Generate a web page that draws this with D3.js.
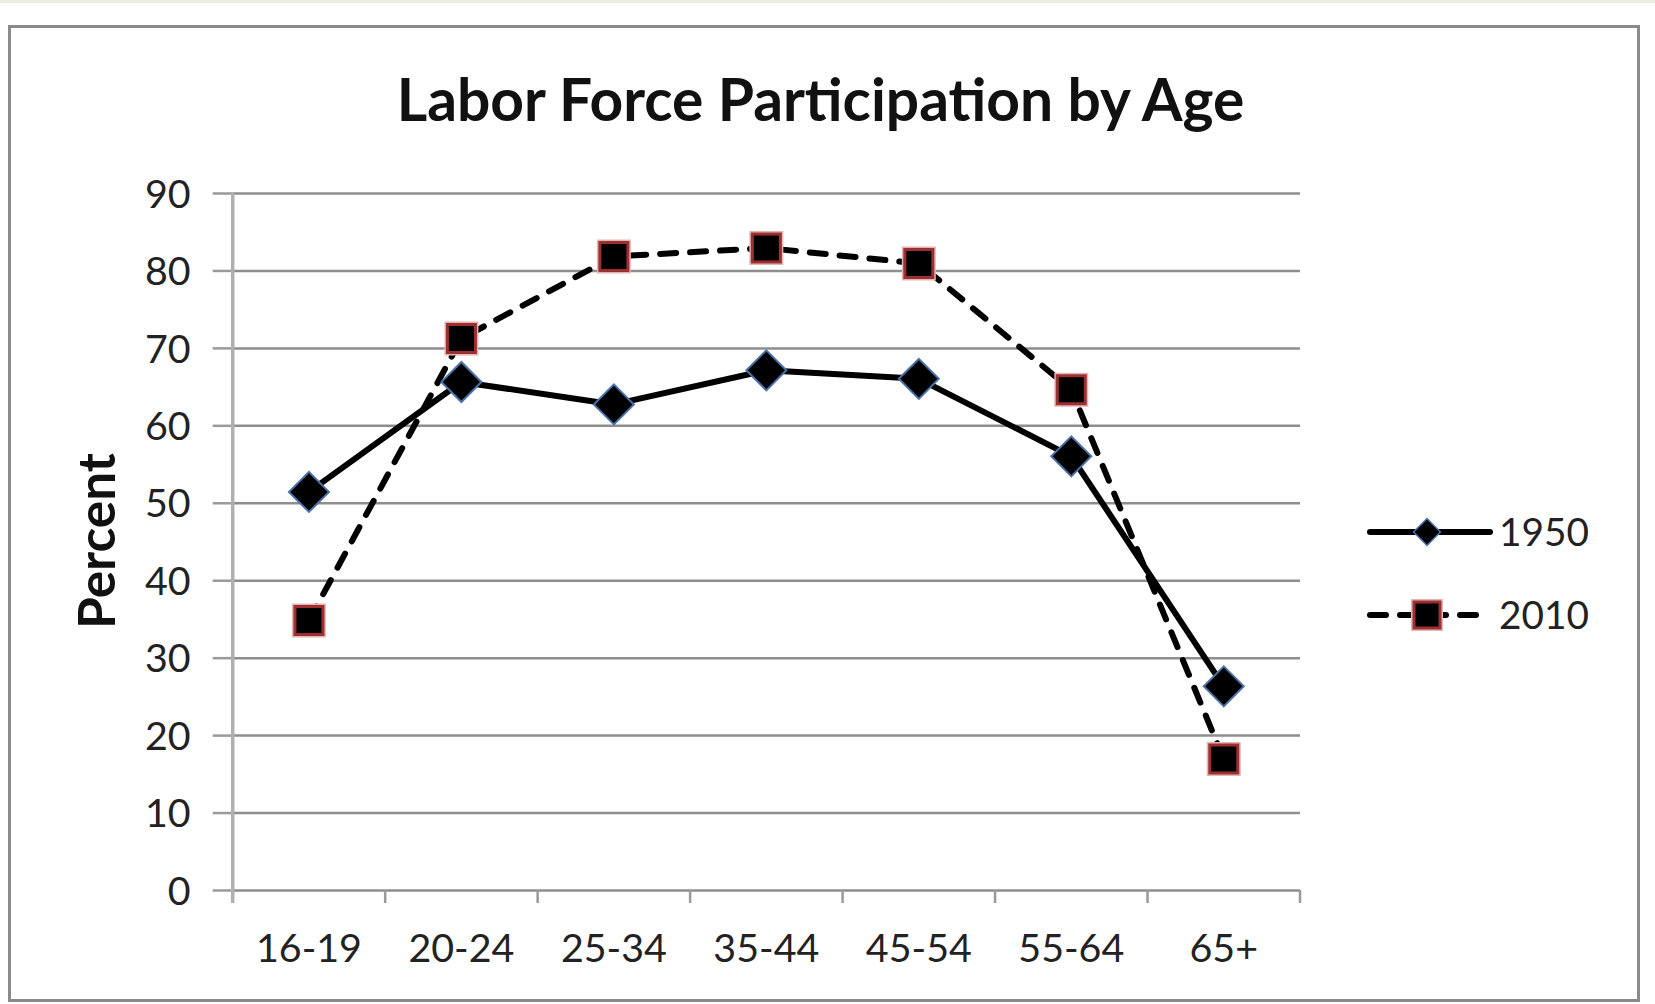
<!DOCTYPE html>
<html><head><meta charset="utf-8">
<script src="https://cdn.jsdelivr.net/npm/d3@7"></script>
<style>body{margin:0;background:#fff;} svg{display:block}</style>
</head><body>
<svg id="c" width="1655" height="1004"></svg>
<script>
const categories = ["16-19","20-24","25-34","35-44","45-54","55-64","65+"];
const values1950 = [51.4,65.6,62.7,67.1,66.0,56.0,26.3];
const values2010 = [34.8,71.2,81.8,82.9,80.9,64.6,16.9];
const yTicks = [0,10,20,30,40,50,60,70,80,90];
const seriesNames = ["1950","2010"];
const titleText = "Labor Force Participation by Age";
const yLabelText = "Percent";

const FONT = "Lato, 'Open Sans', sans-serif";
const svg = d3.select("#c");

function fitWidth(sel, target) {
  const w = sel.node().getComputedTextLength();
  const fs = parseFloat(sel.attr("font-size"));
  sel.attr("font-size", fs * target / w);
}

svg.append("rect").attr("x",0).attr("y",0).attr("width",1655).attr("height",3).attr("fill","#efece2");
svg.append("rect").attr("x",9.5).attr("y",26.5).attr("width",1629).attr("height",974)
  .attr("fill","#fff").attr("stroke","#8a8a8a").attr("stroke-width",3);

const m = {left:232.7, right:1300, top:193, bottom:890};
const x = d3.scaleBand().domain(categories).range([m.left, m.right]);
const y = d3.scaleLinear().domain([0,90]).range([m.bottom, m.top]);
const cx = c => x(c) + x.bandwidth()/2;

// gridlines
const grid = svg.append("g").attr("transform", `translate(${m.left},0)`)
  .call(d3.axisLeft(y).tickValues(yTicks).tickSize(-(m.right - m.left)).tickFormat(""));
grid.select(".domain").remove();
grid.selectAll("line").attr("stroke","#8e8e8e").attr("stroke-width",2.5);

// y axis outside ticks + labels
const yAx = svg.append("g").attr("transform", `translate(${m.left},0)`)
  .call(d3.axisLeft(y).tickValues(yTicks).tickSize(20).tickPadding(22));
yAx.select(".domain").remove();
yAx.selectAll("line").attr("stroke","#9a9a9a").attr("stroke-width",2.5);
yAx.selectAll("text").attr("font-family",FONT).attr("font-size",30).attr("fill","#222").attr("dy","0.36em");

// y axis vertical line
svg.append("line").attr("x1",m.left).attr("x2",m.left).attr("y1",m.top).attr("y2",m.bottom+13)
  .attr("stroke","#b0b0b0").attr("stroke-width",3.5);

// x ticks at band boundaries
const bounds = categories.map(c => x(c)).concat([m.right]);
svg.append("g").selectAll("line").data(bounds.slice(1)).join("line")
  .attr("x1",d=>d).attr("x2",d=>d).attr("y1",m.bottom).attr("y2",m.bottom+13)
  .attr("stroke","#9a9a9a").attr("stroke-width",2.5);

// x labels
const xAx = svg.append("g").attr("transform", `translate(0,${m.bottom})`)
  .call(d3.axisBottom(x).tickSize(0));
xAx.select(".domain").remove();
xAx.selectAll("text").attr("font-family",FONT).attr("font-size",30).attr("fill","#222")
  .attr("y",58).attr("dy","0.36em");

// fit tick label font sizes
const t0 = xAx.selectAll("text").filter(d => d === "16-19");
fitWidth(t0, 106);
const tickFs = t0.attr("font-size");
xAx.selectAll("text").attr("font-size", tickFs);
yAx.selectAll("text").attr("font-size", tickFs);

// lines
const line = d3.line().x(d => cx(d.c)).y(d => y(d.v));
const d1950 = categories.map((c,i) => ({c, v: values1950[i]}));
const d2010 = categories.map((c,i) => ({c, v: values2010[i]}));

svg.append("path").datum(d1950).attr("d", line).attr("fill","none")
  .attr("stroke","#000").attr("stroke-width",6).attr("stroke-linejoin","round");
svg.append("path").datum(d2010).attr("d", line).attr("fill","none")
  .attr("stroke","#000").attr("stroke-width",6).attr("stroke-dasharray","16,14")
  .attr("stroke-linecap","round").attr("stroke-linejoin","round");

const diamond = d3.symbol().type(d3.symbolSquare).size(800);
const square = d3.symbol().type(d3.symbolSquare).size(784);

svg.append("g").selectAll("path").data(d1950).join("path")
  .attr("d", diamond)
  .attr("transform", d => `translate(${cx(d.c)},${y(d.v)}) rotate(45)`)
  .attr("fill","#000").attr("stroke","#4a72a8").attr("stroke-width",2);

const sq = svg.append("g").selectAll("g").data(d2010).join("g")
  .attr("transform", d => `translate(${cx(d.c)},${y(d.v)})`);
sq.append("path").attr("d", d3.symbol().type(d3.symbolSquare).size(1024))
  .attr("fill","none").attr("stroke","#e6b4b4").attr("stroke-width",2);
sq.append("path").attr("d", square).attr("fill","#000").attr("stroke","#9c3030").attr("stroke-width",3);

// title
const title = svg.append("text").attr("x",820.5).attr("y",121).attr("text-anchor","middle")
  .attr("font-family",FONT).attr("font-weight","bold").attr("font-size",48).attr("fill","#111")
  .text(titleText);
fitWidth(title, 848);

// y label
const yl = svg.append("text").attr("transform","translate(115,541) rotate(-90)")
  .attr("text-anchor","middle").attr("font-family",FONT).attr("font-weight","bold")
  .attr("font-size",34).attr("fill","#111").text(yLabelText);
fitWidth(yl, 176);

// legend
const lg = svg.append("g");
const legendRows = [
  {name: seriesNames[0], y: 532, dash: null, marker: "diamond"},
  {name: seriesNames[1], y: 615, dash: "16,14", marker: "square"}
];
legendRows.forEach(r => {
  const ln = lg.append("line").attr("x1",1370).attr("x2",1490).attr("y1",r.y).attr("y2",r.y)
    .attr("stroke","#000").attr("stroke-width",6).attr("stroke-linecap","round");
  if (r.dash) ln.attr("stroke-dasharray", r.dash);
  if (r.marker === "diamond") {
    lg.append("path").attr("d", d3.symbol().type(d3.symbolSquare).size(360))
      .attr("transform",`translate(1427,${r.y}) rotate(45)`)
      .attr("fill","#000").attr("stroke","#4a72a8").attr("stroke-width",1.5);
  } else {
    lg.append("path").attr("d", d3.symbol().type(d3.symbolSquare).size(900))
      .attr("transform",`translate(1427,${r.y})`).attr("fill","none").attr("stroke","#e6b4b4").attr("stroke-width",2);
    lg.append("path").attr("d", d3.symbol().type(d3.symbolSquare).size(676))
      .attr("transform",`translate(1427,${r.y})`).attr("fill","#000").attr("stroke","#9c3030").attr("stroke-width",3);
  }
  const t = lg.append("text").attr("x",1499).attr("y",r.y).attr("dy","0.36em")
    .attr("font-family",FONT).attr("font-size",34).attr("fill","#222").text(r.name);
  fitWidth(t, 90);
});
</script>
</body></html>
